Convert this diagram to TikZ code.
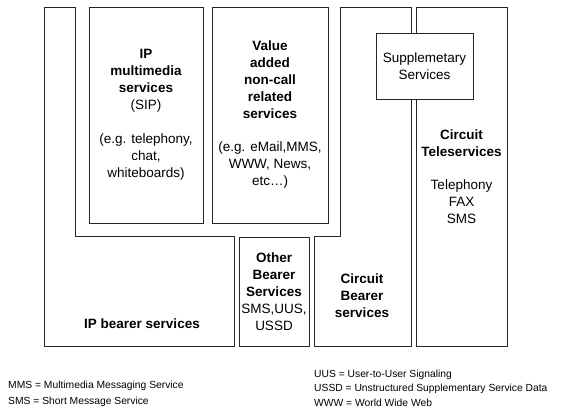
\documentclass[tikz,border=0pt]{standalone}
\usepackage{fontspec}
\setmainfont{Liberation Sans}
\usetikzlibrary{positioning}
\newcommand{\servfont}{\fontsize{13.5}{17}\selectfont}
\newcommand{\notefont}{\fontsize{10.3}{14}\selectfont}
\tikzset{
  servbox/.style={rectangle, draw=black!85, line width=0.9pt, fill=white, align=center, font=\servfont, inner sep=0pt},
  bearer/.style={draw=black!85, line width=0.9pt},
  servtext/.style={align=center, font=\servfont, inner sep=0pt},
  note/.style={anchor=west, align=left, font=\notefont, inner sep=0pt}
}

\begin{document}
\begin{tikzpicture}[x=1pt, y=-1pt]
    \useasboundingbox (0,0) rectangle (561,410);

    % 1. Bearer services (L-shaped outlines)
    \draw[bearer] (44,7) -- (75,7) -- (75,236) -- (234,236) -- (234,346) -- (44,346) -- cycle;
    \node[servtext] (ipbearer) at (142,324) {\textbf{IP bearer services}};

    \node[servbox, minimum width=70, minimum height=109] (otherbearer) at (274,291.5)
        {\textbf{Other}\\\textbf{Bearer}\\\textbf{Services}\\SMS,UUS,\\USSD};

    \draw[bearer] (314,236) -- (340,236) -- (340,7) -- (411,7) -- (411,346) -- (314,346) -- cycle;
    \node[servtext] (ckbearer) at (362,296) {\textbf{Circuit}\\\textbf{Bearer}\\\textbf{services}};

    % 2. Services on top
    \node[servbox, minimum width=114, minimum height=216] (ipmm) at (146,115)
        {\textbf{IP}\\\textbf{multimedia}\\\textbf{services}\\(SIP)\\[17pt](e.g. telephony,\\chat,\\whiteboards)};
    \node[servbox, minimum width=116, minimum height=216] (valueadd) at (270,115)
        {\textbf{Value}\\\textbf{added}\\\textbf{non-call}\\\textbf{related}\\\textbf{services}\\[16pt](e.g. eMail,MMS,\\WWW, News,\\etc…)};
    \node[servbox, minimum width=91, minimum height=339] (ckteleserv) at (461.5,176.5)
        {\textbf{Circuit}\\\textbf{Teleservices}\\[16pt]Telephony\\FAX\\SMS};
    \node[servbox, minimum width=97, minimum height=66] (suppserv) at (424.5,66)
        {Supplemetary\\Services};

    % 3. Abbreviations
    \node[note] (mmsnote) at (8,386) {MMS = Multimedia Messaging Service};
    \node[note] (smsnote) at (8,402) {SMS = Short Message Service};
    \node[note] (uusnote) at (314,375) {UUS = User-to-User Signaling};
    \node[note] (ussdnote) at (314,389) {USSD = Unstructured Supplementary Service Data};
    \node[note] (wwwnote) at (314,403) {WWW = World Wide Web};

\end{tikzpicture}
\end{document}
